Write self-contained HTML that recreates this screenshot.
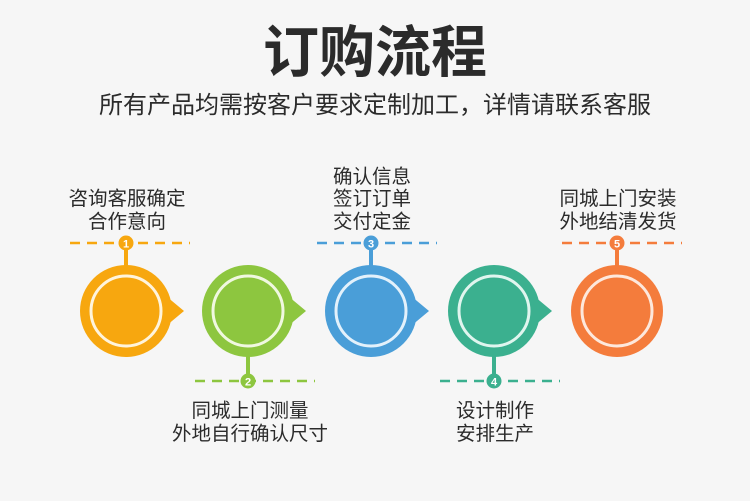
<!DOCTYPE html>
<html><head><meta charset="utf-8"><style>
html,body{margin:0;padding:0;background:#f6f6f6;}
svg{display:block}
text{font-family:"Liberation Sans","Noto Sans CJK SC",sans-serif;fill:#2b2b2b;text-anchor:middle}
</style></head><body>
<svg width="750" height="501" viewBox="0 0 750 501" xmlns="http://www.w3.org/2000/svg">
<rect width="750" height="501" fill="#f6f6f6"/>
<text x="375" y="72" font-size="56" font-weight="bold" fill="#1a1a1a">订购流程</text>
<text x="375" y="113" font-size="24" fill="#333">所有产品均需按客户要求定制加工，详情请联系客服</text>

<g font-size="19.5">
<text x="127" y="205">咨询客服确定</text>
<text x="127" y="228">合作意向</text>
<text x="372" y="183">确认信息</text>
<text x="372" y="205">签订订单</text>
<text x="372" y="228">交付定金</text>
<text x="618" y="205">同城上门安装</text>
<text x="618" y="228">外地结清发货</text>
<text x="250" y="417">同城上门测量</text>
<text x="250" y="440">外地自行确认尺寸</text>
<text x="495" y="417">设计制作</text>
<text x="495" y="440">安排生产</text>
</g>

<g>
<line x1="70" y1="243" x2="190" y2="243" stroke="#f7a70f" stroke-width="2.5" stroke-dasharray="10,7"/>
<rect x="124" y="243" width="4" height="24" fill="#f7a70f"/>
<path d="M166 296 L184 311 L166 326 Z" fill="#f7a70f"/>
<circle cx="126" cy="311" r="46" fill="#f7a70f"/>
<circle cx="126" cy="311" r="35" fill="none" stroke="#fff4dc" stroke-width="3"/>
<circle cx="126" cy="243" r="7.5" fill="#f7a70f"/>
<text x="126" y="247.5" font-size="11" font-weight="bold" style="fill:#fff">1</text>
</g>
<g>
<line x1="195" y1="381" x2="315" y2="381" stroke="#8dc63f" stroke-width="2.5" stroke-dasharray="10,7"/>
<rect x="246" y="355" width="4" height="26" fill="#8dc63f"/>
<path d="M288 296 L306 311 L288 326 Z" fill="#8dc63f"/>
<circle cx="248" cy="311" r="46" fill="#8dc63f"/>
<circle cx="248" cy="311" r="35" fill="none" stroke="#f0f8e0" stroke-width="3"/>
<circle cx="248" cy="381" r="7.5" fill="#8dc63f"/>
<text x="248" y="385.5" font-size="11" font-weight="bold" style="fill:#fff">2</text>
</g>
<g>
<line x1="317" y1="243" x2="437" y2="243" stroke="#4a9ed8" stroke-width="2.5" stroke-dasharray="10,7"/>
<rect x="369" y="243" width="4" height="24" fill="#4a9ed8"/>
<path d="M411 296 L429 311 L411 326 Z" fill="#4a9ed8"/>
<circle cx="371" cy="311" r="46" fill="#4a9ed8"/>
<circle cx="371" cy="311" r="35" fill="none" stroke="#e3f1fb" stroke-width="3"/>
<circle cx="371" cy="243" r="7.5" fill="#4a9ed8"/>
<text x="371" y="247.5" font-size="11" font-weight="bold" style="fill:#fff">3</text>
</g>
<g>
<line x1="440" y1="381" x2="560" y2="381" stroke="#3bb08f" stroke-width="2.5" stroke-dasharray="10,7"/>
<rect x="492" y="355" width="4" height="26" fill="#3bb08f"/>
<path d="M534 296 L552 311 L534 326 Z" fill="#3bb08f"/>
<circle cx="494" cy="311" r="46" fill="#3bb08f"/>
<circle cx="494" cy="311" r="35" fill="none" stroke="#e0f5ee" stroke-width="3"/>
<circle cx="494" cy="381" r="7.5" fill="#3bb08f"/>
<text x="494" y="385.5" font-size="11" font-weight="bold" style="fill:#fff">4</text>
</g>
<g>
<line x1="562" y1="243" x2="682" y2="243" stroke="#f47c3c" stroke-width="2.5" stroke-dasharray="10,7"/>
<rect x="615" y="243" width="4" height="24" fill="#f47c3c"/>
<circle cx="617" cy="311" r="46" fill="#f47c3c"/>
<circle cx="617" cy="311" r="35" fill="none" stroke="#fde8dc" stroke-width="3"/>
<circle cx="617" cy="243" r="7.5" fill="#f47c3c"/>
<text x="617" y="247.5" font-size="11" font-weight="bold" style="fill:#fff">5</text>
</g>
</svg>
</body></html>
